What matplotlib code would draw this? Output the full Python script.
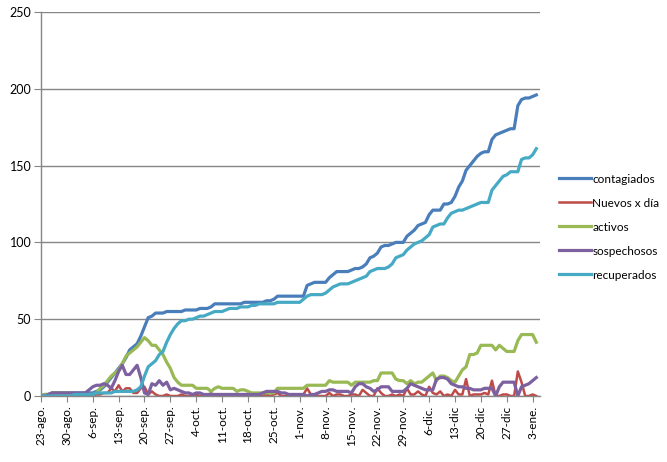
import numpy as np
import matplotlib
matplotlib.use("Agg")
import matplotlib.pyplot as plt

# daily series, 23-ago .. 4-ene (one row = one week)
contagiados = [
    0, 1, 1, 2, 2, 2, 2,
    2, 2, 2, 2, 2, 2, 2,
    2, 3, 4, 6, 9, 12, 15,
    18, 21, 25, 30, 32, 34, 39,
    45, 51, 52, 54, 54, 54, 55,
    55, 55, 55, 55, 56, 56, 56,
    56, 57, 57, 57, 58, 60, 60,
    60, 60, 60, 60, 60, 60, 61,
    61, 61, 61, 61, 61, 62, 62,
    63, 65, 65, 65, 65, 65, 65,
    65, 65, 72, 73, 74, 74, 74,
    74, 77, 79, 81, 81, 81, 81,
    82, 83, 83, 84, 86, 90, 91,
    93, 97, 98, 98, 99, 100, 100,
    100, 104, 106, 108, 111, 112, 113,
    118, 121, 121, 121, 125, 125, 126,
    130, 136, 140, 147, 150, 153, 156,
    158, 159, 159, 167, 170, 171, 172,
    173, 174, 174, 189, 193, 194, 194,
    195, 196,
]
nuevos = [
    0, 1, 0, 1, 0, 0, 0,
    0, 0, 0, 0, 0, 0, 0,
    0, 1, 1, 2, 2, 5, 3,
    7, 3, 5, 5, 2, 2, 5,
    6, 1, 3, 1, 0, 0, 1,
    0, 0, 0, 1, 0, 0, 0,
    1, 0, 0, 0, 2, 0, 0,
    0, 0, 0, 1, 0, 0, 1,
    0, 0, 0, 0, 0, 1, 0,
    1, 2, 0, 0, 0, 0, 0,
    0, 1, 5, 1, 1, 0, 0,
    0, 2, 0, 1, 1, 0, 0,
    1, 1, 0, 4, 2, 0, 0,
    5, 2, 0, 0, 1, 0, 1,
    0, 5, 1, 1, 3, 1, 0,
    6, 2, 1, 3, 0, 1, 0,
    4, 1, 1, 11, 0, 1, 1,
    1, 2, 1, 10, 0, 0, 1,
    1, 0, 0, 16, 9, 0, 0,
    1, 0,
]
activos = [
    0, 1, 1, 2, 2, 2, 2,
    2, 2, 1, 1, 1, 1, 1,
    1, 2, 5, 7, 10, 13, 15,
    17, 21, 26, 28, 30, 32, 35,
    38, 36, 33, 33, 30, 27, 22,
    18, 12, 9, 7, 7, 7, 7,
    5, 5, 5, 5, 3, 5, 6,
    5, 5, 5, 5, 3, 4, 4,
    3, 2, 2, 2, 2, 2, 2,
    2, 5, 5, 5, 5, 5, 5,
    5, 5, 7, 7, 7, 7, 7,
    7, 10, 9, 9, 9, 9, 9,
    7, 9, 9, 9, 9, 9, 10,
    10, 15, 15, 15, 15, 11, 10,
    10, 8, 10, 8, 9, 9, 11,
    13, 15, 10, 13, 13, 12, 10,
    9, 13, 17, 19, 27, 27, 28,
    33, 33, 33, 33, 30, 33, 31,
    29, 29, 29, 36, 40, 40, 40,
    40, 35,
]
sospechosos = [
    0, 0, 1, 2, 2, 2, 2,
    2, 2, 2, 2, 2, 2, 4,
    6, 7, 7, 8, 7, 5, 10,
    16, 20, 14, 14, 17, 20, 12,
    2, 1, 8, 7, 10, 7, 9,
    4, 5, 4, 3, 2, 2, 1,
    2, 2, 1, 1, 1, 1, 1,
    1, 1, 1, 1, 1, 1, 1,
    1, 1, 1, 1, 2, 3, 3,
    3, 3, 2, 2, 1, 1, 1,
    1, 1, 0, 1, 1, 2, 3,
    3, 4, 4, 3, 3, 3, 3,
    2, 6, 8, 8, 6, 5, 3,
    4, 6, 6, 6, 3, 3, 3,
    3, 5, 8, 7, 6, 5, 4,
    4, 4, 11, 12, 12, 11, 8,
    7, 6, 6, 5, 5, 4, 4,
    4, 5, 5, 5, 0, 6, 9,
    9, 9, 9, 0, 6, 7, 8,
    10, 12,
]
recuperados = [
    0, 0, 0, 0, 0, 0, 0,
    0, 0, 1, 1, 1, 1, 1,
    1, 2, 2, 2, 2, 2, 3,
    3, 3, 3, 3, 3, 4, 6,
    13, 19, 21, 23, 27, 29, 35,
    40, 44, 47, 49, 49, 50, 50,
    51, 52, 52, 53, 54, 55, 55,
    55, 56, 57, 57, 57, 58, 58,
    58, 59, 59, 60, 60, 60, 60,
    60, 61, 61, 61, 61, 61, 61,
    61, 63, 65, 66, 66, 66, 66,
    67, 69, 71, 72, 73, 73, 73,
    74, 75, 76, 77, 78, 81, 82,
    83, 83, 83, 84, 86, 90, 91,
    92, 95, 97, 99, 100, 101, 103,
    105, 110, 111, 112, 112, 116, 119,
    120, 121, 121, 122, 123, 124, 125,
    126, 126, 126, 134, 137, 140, 143,
    144, 146, 146, 146, 154, 155, 155,
    157, 161,
]

tick_labels = ["23-ago.", "30-ago.", "6-sep.", "13-sep.", "20-sep.", "27-sep.",
               "4-oct.", "11-oct.", "18-oct.", "25-oct.", "1-nov.", "8-nov.",
               "15-nov.", "22-nov.", "29-nov.", "6-dic.", "13-dic", "20-dic",
               "27-dic", "3-ene."]

series = [
    ("contagiados", contagiados, "#4A7EBB", 2.3),
    ("Nuevos x día", nuevos, "#BE4B48", 1.8),
    ("activos", activos, "#98B954", 2.3),
    ("sospechosos", sospechosos, "#7D60A0", 2.3),
    ("recuperados", recuperados, "#46AAC5", 2.3),
]

plt.rcParams["font.family"] = ["Lato", "DejaVu Sans"]

fig = plt.figure(figsize=(6.67, 4.62), dpi=100)
ax = fig.add_axes([41 / 667, 1 - 396 / 462, (540 - 41) / 667, (396 - 12) / 462])

for name, vals, color, lw in series:
    days = np.arange(len(vals))
    ax.plot(days, vals, color=color, lw=lw, label=name, solid_joinstyle="round")

ax.set_xlim(0, 135)
ax.set_ylim(0, 250)
ax.set_yticks(np.arange(0, 251, 50))
ax.set_xticks(np.arange(0, 7 * len(tick_labels), 7))
ax.set_xticklabels(tick_labels, rotation=90, fontsize=8.5)
ax.tick_params(axis="y", labelsize=9, length=5, color="#868686", pad=2)
ax.tick_params(axis="x", length=4, color="#868686", pad=3)
ax.grid(axis="y", color="#868686", lw=1)
ax.set_axisbelow(True)
for s in ["top", "right"]:
    ax.spines[s].set_visible(False)
for s in ["left", "bottom"]:
    ax.spines[s].set_color("#868686")
    ax.spines[s].set_linewidth(1)

fig.legend(loc="upper left", bbox_to_anchor=(548 / 667, 1 - 163 / 462), frameon=False,
           fontsize=8.5, handlelength=2.7, handletextpad=0.15, labelspacing=1.1)

fig.savefig("out.png", dpi=100)
